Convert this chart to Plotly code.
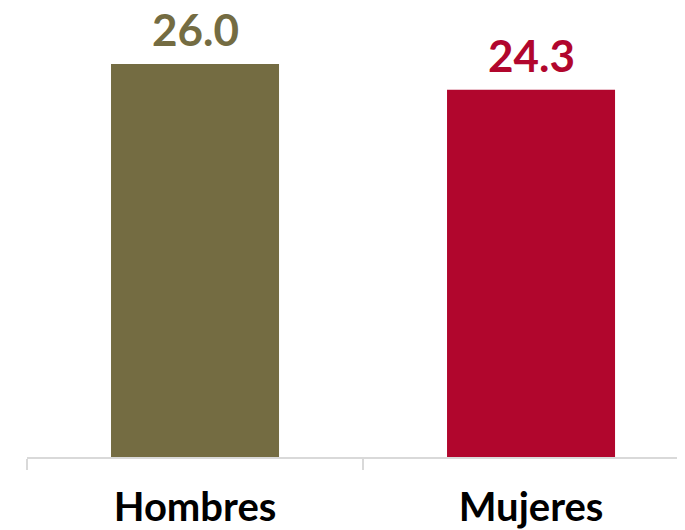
import plotly.graph_objects as go

categories = ["Hombres", "Mujeres"]
values = [26.0, 24.3]
colors = ["#746c42", "#b1062d"]
value_labels = ["26.0", "24.3"]

fig = go.Figure()
fig.add_trace(go.Bar(
    x=categories, y=values, width=0.5,
    marker=dict(color=colors, line=dict(width=0)),
    hoverinfo="skip",
))

for c, v, lab, col in zip(categories, values, value_labels, colors):
    fig.add_annotation(x=c, y=v, text="<b>" + lab + "</b>", showarrow=False,
                       yanchor="bottom", yshift=8, borderpad=0,
                       font=dict(family="Lato", size=44, color=col))

fig.update_layout(
    width=685, height=530,
    margin=dict(l=19, r=0, t=0, b=81),
    plot_bgcolor="white", paper_bgcolor="white",
    showlegend=False,
    bargap=0.5,
)
fig.update_xaxes(
    type="category", range=[-0.5, 1.482],
    showline=True, linecolor="#d9d9d9", linewidth=1.5,
    ticks="outside", tickson="boundaries", ticklen=11, tickcolor="#d9d9d9", tickwidth=1.5,
    tickfont=dict(family="Lato", size=40, color="black", weight="bold"),
    ticklabelstandoff=14,
    showgrid=False, zeroline=False,
)
fig.update_yaxes(range=[0, 29.7], visible=False, showgrid=False, zeroline=False)

fig.write_html("out.html")
